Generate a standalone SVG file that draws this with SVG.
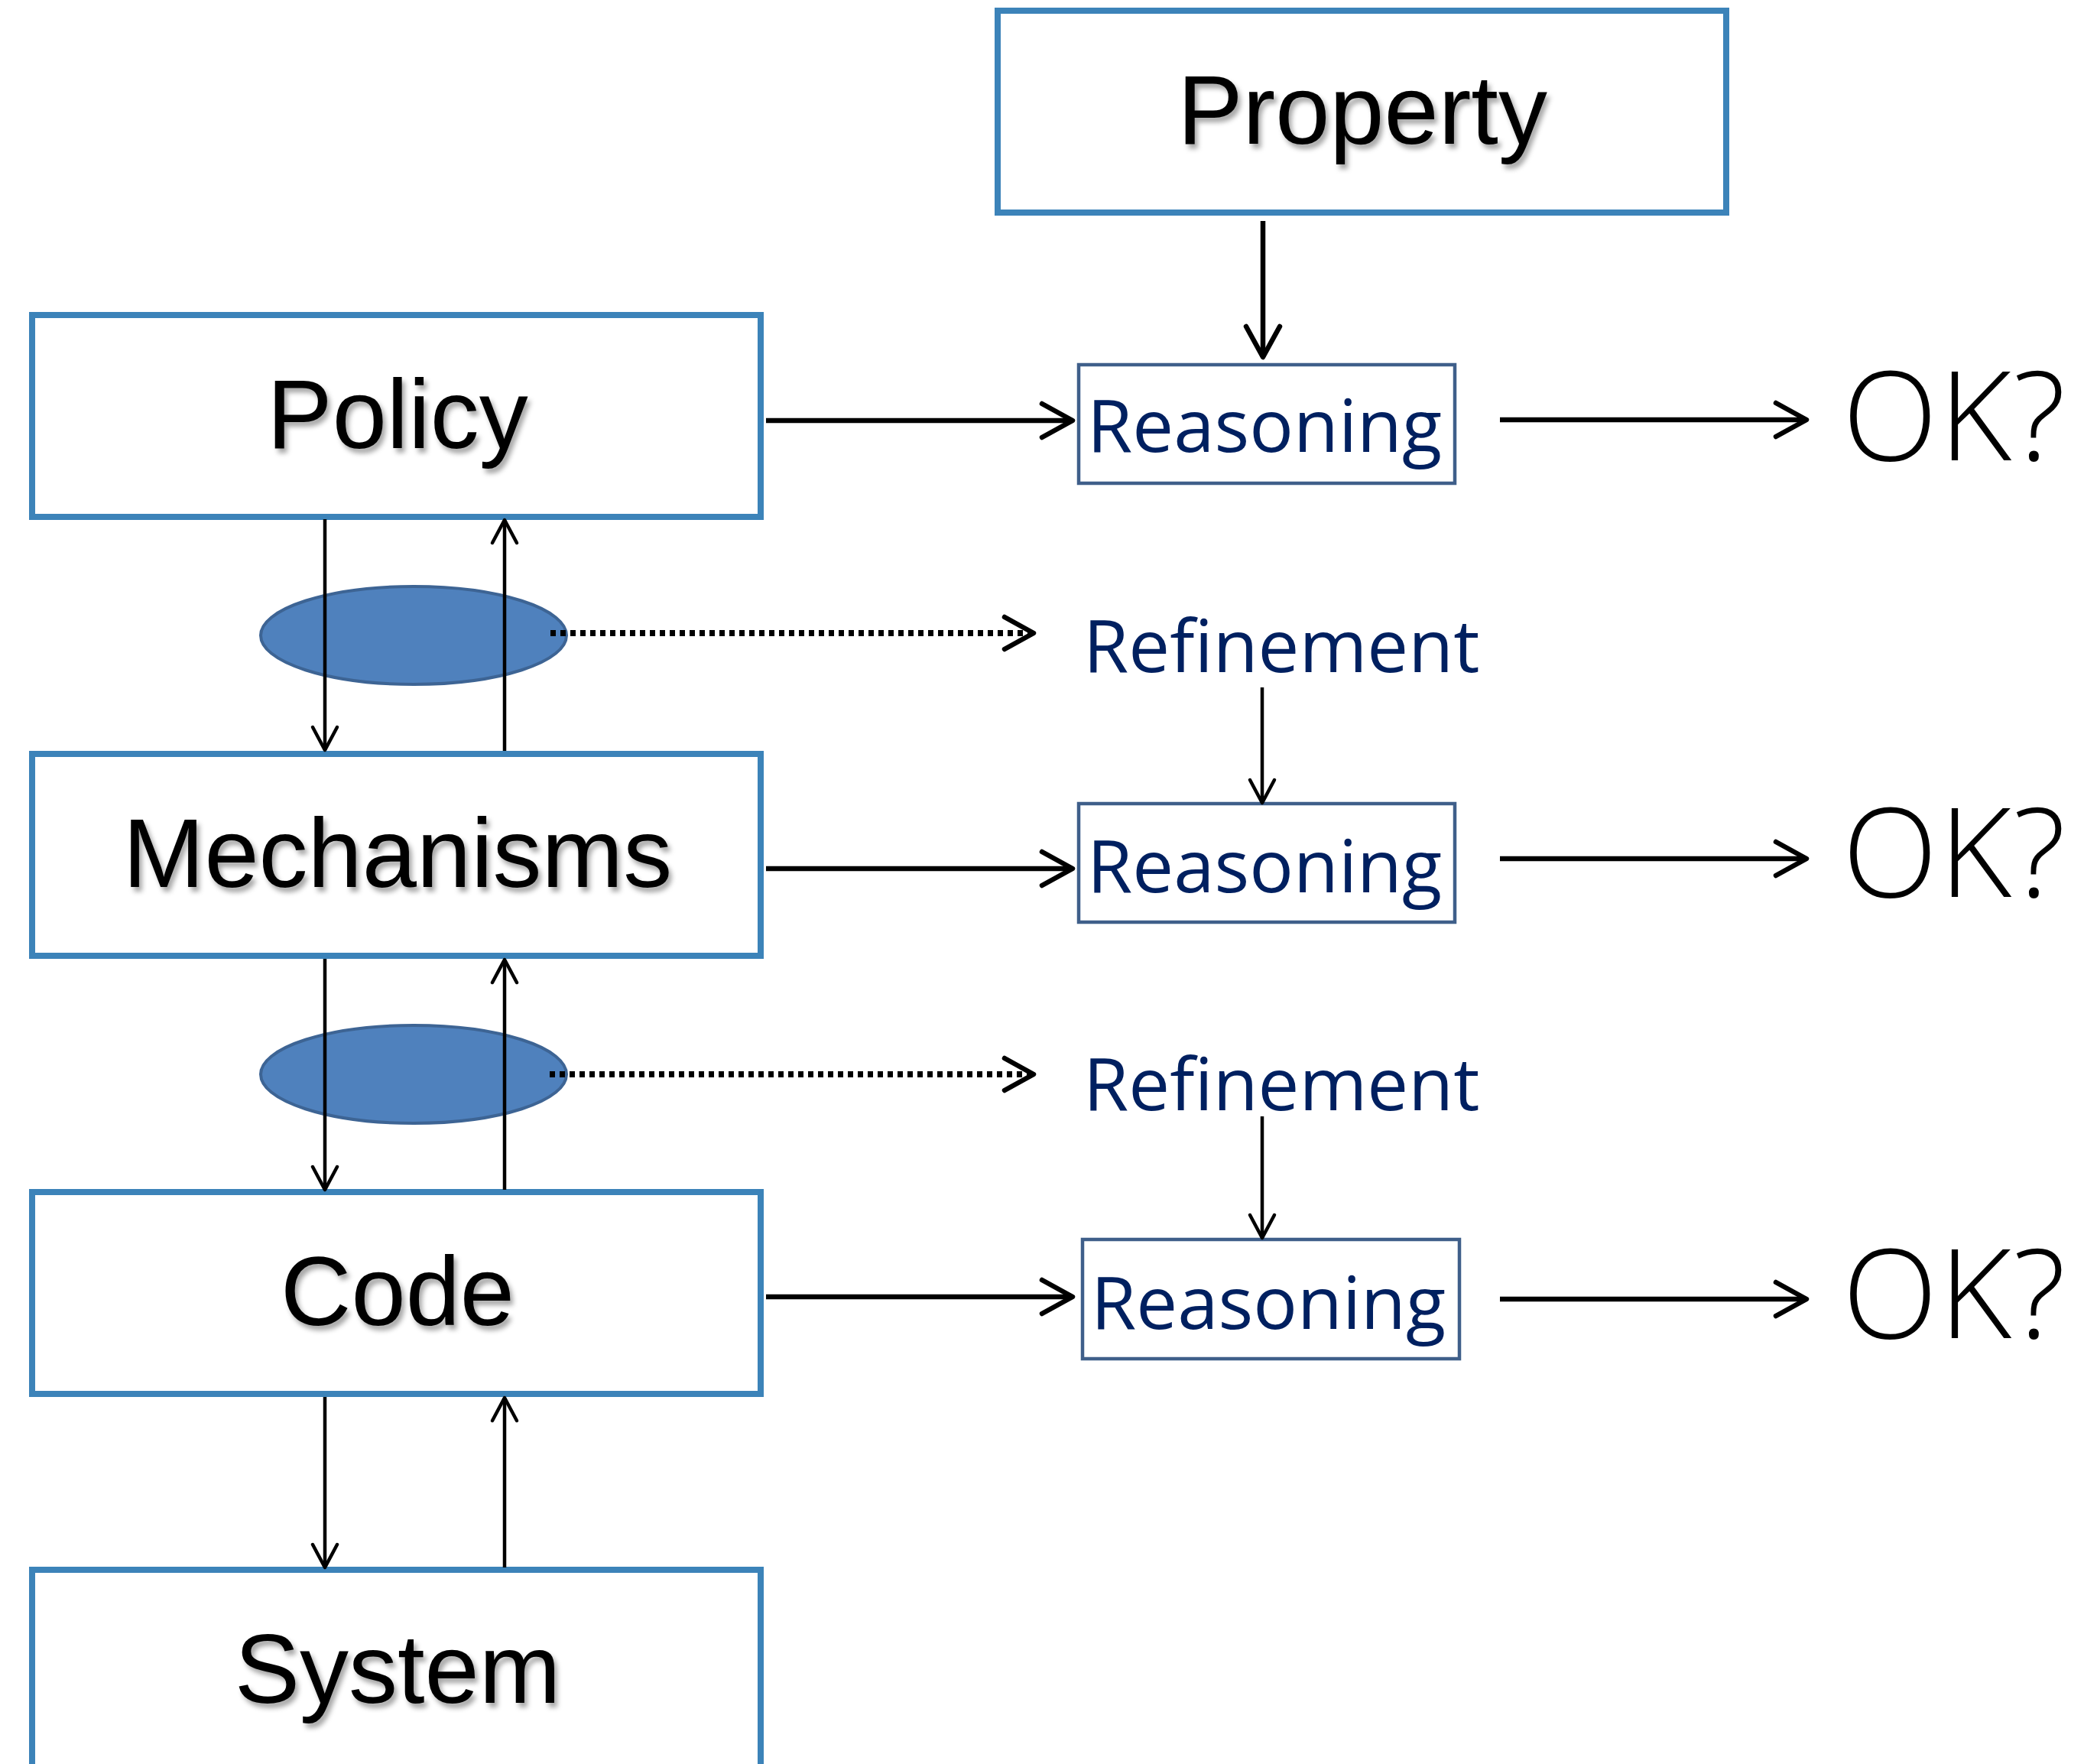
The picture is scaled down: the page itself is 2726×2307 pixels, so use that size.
<svg xmlns="http://www.w3.org/2000/svg" width="2726" height="2307" viewBox="0 0 2726 2307">
<style>
.box{fill:#fff;stroke:#3c83b9;stroke-width:8}
.rbox{fill:#fff;stroke:#3f5f8a;stroke-width:4.5}
.lbl{font-family:"Liberation Sans",Arial,sans-serif;font-size:128px;fill:#000;text-anchor:middle}
.rt{font-family:"Open Sans","DejaVu Sans",sans-serif;font-size:96px;fill:#002060}
.ok{font-family:"Open Sans","Liberation Sans",sans-serif;font-weight:300;font-size:163px;letter-spacing:2px;fill:#000}
.ell{fill:#4f81bd;stroke:#3d6494;stroke-width:4}
.thick{stroke:#000;stroke-width:6.5;fill:none;marker-end:url(#hb)}
.thin{stroke:#000;stroke-width:4.5;fill:none;marker-end:url(#hs)}
.dot{stroke:#000;stroke-width:8;fill:none;stroke-dasharray:7 6;marker-end:url(#hd)}
</style>
<defs>
<filter id="sh" x="-10%" y="-20%" width="130%" height="150%">
<feDropShadow dx="4" dy="6" stdDeviation="3" flood-color="#000" flood-opacity="0.35"/>
</filter>
<marker id="hb" markerUnits="userSpaceOnUse" viewBox="-48 -30 56 60" markerWidth="56" markerHeight="60" refX="0" refY="0" orient="auto" overflow="visible">
<path d="M-40,-22 L0,0 L-40,22" fill="none" stroke="#000" stroke-width="6.5" stroke-linecap="round" stroke-linejoin="round"/>
</marker>
<marker id="hs" markerUnits="userSpaceOnUse" viewBox="-36 -22 42 44" markerWidth="42" markerHeight="44" refX="0" refY="0" orient="auto" overflow="visible">
<path d="M-30,-16 L0,0 L-30,16" fill="none" stroke="#000" stroke-width="4.5" stroke-linecap="round" stroke-linejoin="round"/>
</marker>
<marker id="hd" markerUnits="userSpaceOnUse" viewBox="-48 -30 56 60" markerWidth="56" markerHeight="60" refX="0" refY="0" orient="auto" overflow="visible">
<path d="M-38,-21 L0,0 L-38,21" fill="none" stroke="#000" stroke-width="6.5" stroke-linecap="round" stroke-linejoin="round"/>
</marker>
</defs>
<rect width="2726" height="2307" fill="#fff"/>

<g id="property">
<rect class="box" x="1305" y="14" width="953" height="264"/>
<text class="lbl" x="1782" y="188" filter="url(#sh)">Property</text>
</g>
<g id="policy">
<rect class="box" x="42" y="412" width="953" height="264"/>
<text class="lbl" x="520" y="586" filter="url(#sh)">Policy</text>
</g>
<g id="mechanisms">
<rect class="box" x="42" y="986" width="953" height="264"/>
<text class="lbl" x="520" y="1160" filter="url(#sh)">Mechanisms</text>
</g>
<g id="code">
<rect class="box" x="42" y="1559" width="953" height="264"/>
<text class="lbl" x="520" y="1733" filter="url(#sh)">Code</text>
</g>
<g id="system">
<rect class="box" x="42" y="2053" width="953" height="400"/>
<text class="lbl" x="520" y="2227" filter="url(#sh)">System</text>
</g>

<g id="reasoning1">
<rect class="rbox" x="1411" y="477" width="492" height="155"/>
<text class="rt" x="1422" y="591">Reasoning</text>
</g>
<g id="reasoning2">
<rect class="rbox" x="1411" y="1051" width="492" height="155"/>
<text class="rt" x="1422" y="1167">Reasoning</text>
</g>
<g id="reasoning3">
<rect class="rbox" x="1416" y="1621" width="493" height="156"/>
<text class="rt" x="1427" y="1738">Reasoning</text>
</g>

<g id="refinement1"><text class="rt" x="1417" y="879">Refinement</text></g>
<g id="refinement2"><text class="rt" x="1417" y="1452">Refinement</text></g>

<g id="ok1"><text class="ok" x="2410" y="602">OK?</text></g>
<g id="ok2"><text class="ok" x="2410" y="1173">OK?</text></g>
<g id="ok3"><text class="ok" x="2410" y="1750">OK?</text></g>

<g id="abstraction1"><ellipse class="ell" cx="541" cy="831" rx="200" ry="64"/></g>
<g id="abstraction2"><ellipse class="ell" cx="541" cy="1405" rx="200" ry="64"/></g>

<g id="connectors">
<line class="thick" x1="1652" y1="289" x2="1652" y2="467"/>
<line class="thick" x1="1002" y1="550" x2="1403" y2="550"/>
<line class="thick" x1="1002" y1="1136" x2="1403" y2="1136"/>
<line class="thick" x1="1002" y1="1696" x2="1403" y2="1696"/>
<line class="thick" x1="1962" y1="549" x2="2363" y2="549"/>
<line class="thick" x1="1962" y1="1123" x2="2363" y2="1123"/>
<line class="thick" x1="1962" y1="1699" x2="2363" y2="1699"/>
<line class="thin" x1="1651" y1="899" x2="1651" y2="1050"/>
<line class="thin" x1="1651" y1="1460" x2="1651" y2="1619"/>
<line class="thin" x1="425" y1="679" x2="425" y2="981"/>
<line class="thin" x1="660" y1="982" x2="660" y2="680"/>
<line class="thin" x1="425" y1="1254" x2="425" y2="1556"/>
<line class="thin" x1="660" y1="1556" x2="660" y2="1255"/>
<line class="thin" x1="425" y1="1827" x2="425" y2="2050"/>
<line class="thin" x1="660" y1="2050" x2="660" y2="1828"/>
<line class="dot" x1="720" y1="828" x2="1352" y2="828"/>
<line class="dot" x1="719" y1="1405" x2="1352" y2="1405"/>
</g>
</svg>
